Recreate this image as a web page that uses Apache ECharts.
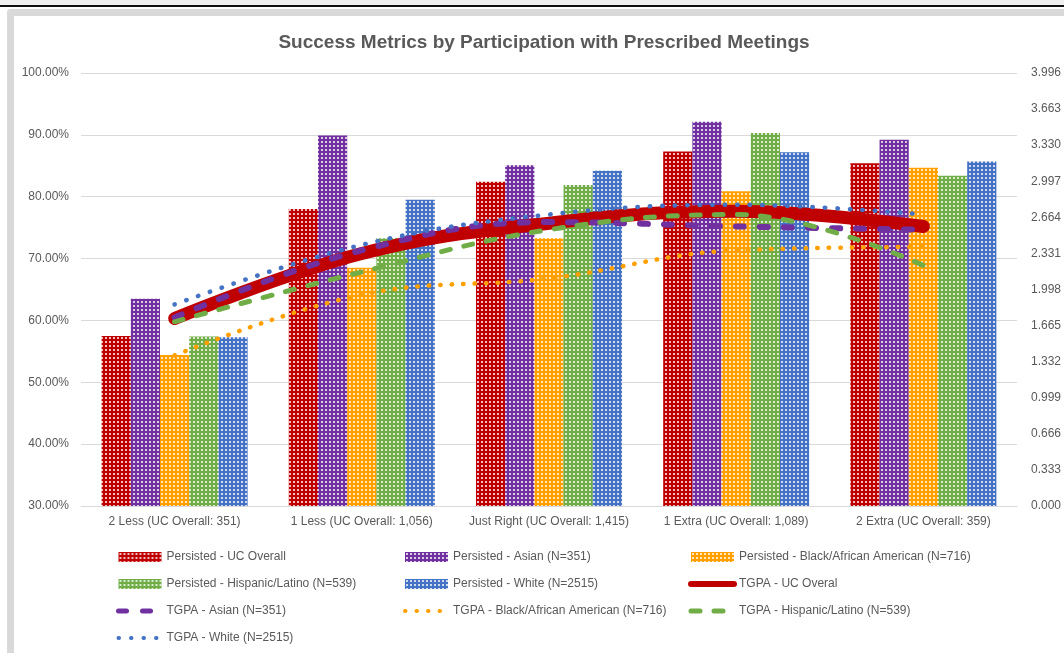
<!DOCTYPE html>
<html>
<head>
<meta charset="utf-8">
<script src="https://cdn.jsdelivr.net/npm/echarts@6/dist/echarts.min.js"></script>
<style>
  body { margin: 0; background: #fff; }
  .frame { position: absolute; }
  #strip { top: 0; left: 0; width: 1064px; height: 5px; background: #f0f0f0; }
  #rule { top: 5px; left: 0; width: 1064px; height: 2px; background: #111; }
  #bandTop { top: 9px; left: 7px; width: 1057px; height: 7px; background: #d9d9d9; border-top-left-radius: 4px; }
  #bandLeft { top: 9px; left: 7px; width: 7px; height: 644px; background: #d9d9d9; border-top-left-radius: 4px; }
  #main { position: absolute; top: 0; left: 0; width: 1064px; height: 653px; }
</style>
</head>
<body>
<div class="frame" id="strip"></div>
<div class="frame" id="rule"></div>
<div class="frame" id="bandTop"></div>
<div class="frame" id="bandLeft"></div>
<div id="main"></div>
<script>
// 类目
const categories = [
  "2 Less (UC Overall: 351)",
  "1 Less (UC Overall: 1,056)",
  "Just Right (UC Overall: 1,415)",
  "1 Extra (UC Overall: 1,089)",
  "2 Extra (UC Overall: 359)"
];

// Persisted (%)
const persistedOverall = [57.5, 78.0, 82.4, 87.3, 85.4];
const persistedAsian = [63.5, 89.9, 85.1, 92.1, 89.2];
const persistedBlack = [54.4, 68.5, 73.3, 80.9, 84.7];
const persistedHispanic = [57.4, 73.3, 81.9, 90.3, 83.4];
const persistedWhite = [57.3, 79.5, 84.2, 87.2, 85.7];

// TGPA (右轴)
const tgpaOverall = [1.73, 2.33, 2.61, 2.72, 2.58];
const tgpaAsian = [1.74, 2.36, 2.62, 2.58, 2.55];
const tgpaBlack = [1.39, 1.95, 2.10, 2.36, 2.39];
const tgpaHispanic = [1.70, 2.16, 2.55, 2.69, 2.22];
const tgpaWhite = [1.86, 2.41, 2.69, 2.78, 2.69];

const red = "#C00000";
const purple = "#7030A0";
const orange = "#FFA000";
const green = "#70AD47";
const blue = "#4472C4";
const font = "Liberation Sans, Arial, sans-serif";
const textColor = "#595959";

// 点状填充
function dots(color) {
  const c = document.createElement("canvas");
  c.width = 4;
  c.height = 4;
  const g = c.getContext("2d");
  g.fillStyle = color;
  g.fillRect(0, 0, 4, 4);
  g.fillStyle = "rgba(255,255,255,0.75)";
  g.fillRect(1, 1, 2, 2);
  return { image: c, repeat: "repeat" };
}

function barSeries(name, data, color) {
  return {
    name: name,
    type: "bar",
    data: data,
    barGap: "0%",
    barCategoryGap: "22%",
    itemStyle: { color: dots(color) }
  };
}

function lineSeries(name, data, color, width, dash) {
  return {
    name: name,
    type: "line",
    yAxisIndex: 1,
    data: data,
    smooth: 0.4,
    symbol: "none",
    itemStyle: { color: color },
    lineStyle: { color: color, width: width, type: dash, cap: "round", join: "round" }
  };
}

// 图例里的线条不要圆点
function lineItem(name, width) {
  return {
    name: name,
    lineStyle: { width: width },
    itemStyle: { color: "rgba(0,0,0,0)", borderWidth: 0, opacity: 0 }
  };
}

function legendCol(left, items) {
  return {
    orient: "vertical",
    left: left,
    top: 546,
    itemWidth: 43,
    itemHeight: 10,
    itemGap: 15,
    selectedMode: false,
    textStyle: { color: textColor, fontSize: 12, fontFamily: font },
    data: items
  };
}

const chart = echarts.init(document.getElementById("main"));
const option = {
  animation: false,
  title: {
    text: "Success Metrics by Participation with Prescribed Meetings",
    left: 539,
    top: 28,
    textAlign: "center",
    textStyle: { color: textColor, fontSize: 19, fontWeight: "bold", fontFamily: font }
  },
  grid: { left: 81, right: 41, top: 73, bottom: 147 },
  legend: [
    legendCol(111, [
      { name: "Persisted - UC Overall", icon: "rect" },
      { name: "Persisted - Hispanic/Latino (N=539)", icon: "rect" },
      lineItem("TGPA - Asian (N=351)", 5),
      lineItem("TGPA - White (N=2515)", 4)
    ]),
    legendCol(398, [
      { name: "Persisted - Asian (N=351)", icon: "rect" },
      { name: "Persisted - White (N=2515)", icon: "rect" },
      lineItem("TGPA - Black/African American (N=716)", 4)
    ]),
    legendCol(683, [
      { name: "Persisted - Black/African American (N=716)", icon: "rect" },
      lineItem("TGPA - UC Overal", 6),
      lineItem("TGPA - Hispanic/Latino (N=539)", 5)
    ])
  ],
  xAxis: {
    type: "category",
    data: categories,
    axisTick: { show: false },
    axisLine: { lineStyle: { color: "#d9d9d9", width: 1 } },
    axisLabel: { color: textColor, fontSize: 12, fontFamily: font, margin: 10, interval: 0 }
  },
  yAxis: [
    {
      type: "value",
      min: 30,
      max: 100,
      interval: 10,
      axisLine: { show: false },
      axisTick: { show: false },
      splitLine: { lineStyle: { color: "#d9d9d9", width: 1 } },
      axisLabel: {
        color: textColor,
        fontSize: 12,
        fontFamily: font,
        margin: 12,
        formatter: v => v.toFixed(2) + "%"
      }
    },
    {
      type: "value",
      min: 0,
      max: 3.996,
      interval: 0.333,
      axisLine: { show: false },
      axisTick: { show: false },
      splitLine: { show: false },
      axisLabel: {
        color: textColor,
        fontSize: 12,
        fontFamily: font,
        margin: 14,
        formatter: v => v.toFixed(3)
      }
    }
  ],
  series: [
    barSeries("Persisted - UC Overall", persistedOverall, red),
    barSeries("Persisted - Asian (N=351)", persistedAsian, purple),
    barSeries("Persisted - Black/African American (N=716)", persistedBlack, orange),
    barSeries("Persisted - Hispanic/Latino (N=539)", persistedHispanic, green),
    barSeries("Persisted - White (N=2515)", persistedWhite, blue),
    lineSeries("TGPA - UC Overal", tgpaOverall, red, 13, "solid"),
    lineSeries("TGPA - Asian (N=351)", tgpaAsian, purple, 6, [8, 16]),
    lineSeries("TGPA - Black/African American (N=716)", tgpaBlack, orange, 4.5, [0.5, 11]),
    lineSeries("TGPA - Hispanic/Latino (N=539)", tgpaHispanic, green, 5, [9, 14]),
    lineSeries("TGPA - White (N=2515)", tgpaWhite, blue, 4.5, [0.5, 12])
  ]
};
chart.setOption(option);
</script>
</body>
</html>
